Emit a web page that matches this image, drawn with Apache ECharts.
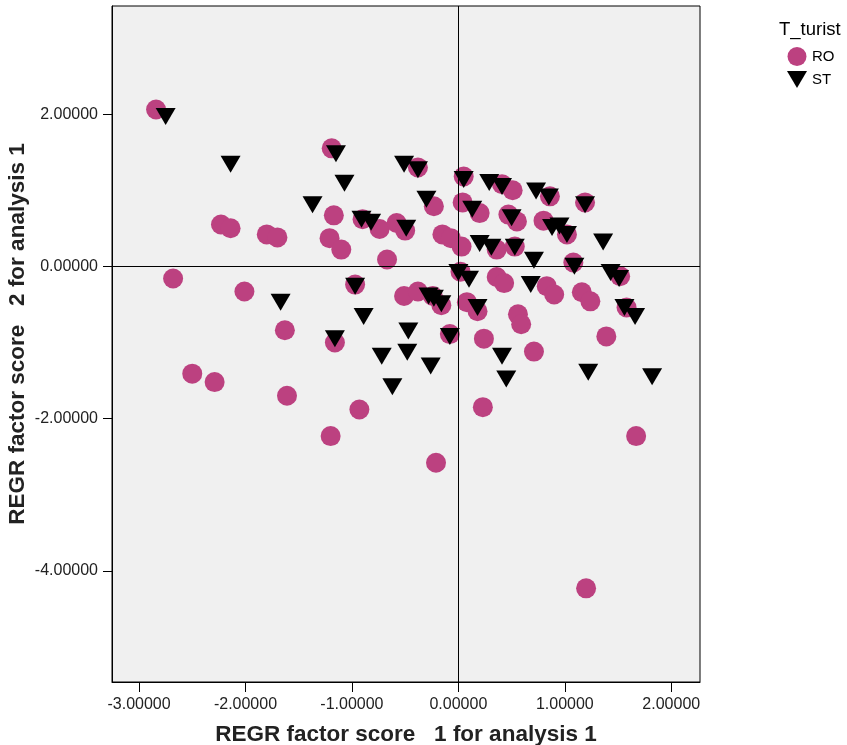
<!DOCTYPE html>
<html>
<head>
<meta charset="utf-8">
<script src="https://cdn.jsdelivr.net/npm/echarts@6/dist/echarts.min.js"></script>
<style>
  html, body { margin: 0; padding: 0; background: #fff; }
  #chart { width: 847px; height: 745px; }
</style>
</head>
<body>
<div id="chart"></div>
<script>
// factor scores, group RO (circles)
const roPoints = [
  [-2.84, 2.06], [-1.19, 1.55], [-0.38, 1.30], [0.05, 1.18], [0.41, 1.08],
  [0.51, 1.00], [0.86, 0.92], [1.19, 0.84], [-1.17, 0.67], [-2.23, 0.55],
  [-2.14, 0.50], [-1.80, 0.42], [-1.70, 0.38], [-0.90, 0.62], [-0.74, 0.49],
  [-0.58, 0.57], [-0.50, 0.47], [-0.23, 0.79], [0.04, 0.84], [0.20, 0.70],
  [0.47, 0.68], [0.55, 0.59], [0.80, 0.60], [1.02, 0.42], [-1.21, 0.37],
  [-1.10, 0.22], [-0.67, 0.09], [-0.15, 0.42], [-0.07, 0.37], [0.03, 0.26],
  [0.36, 0.22], [0.53, 0.26], [1.08, 0.05], [1.52, -0.13], [0.02, -0.07],
  [0.36, -0.14], [0.43, -0.22], [0.83, -0.26], [0.90, -0.37], [1.16, -0.34],
  [1.24, -0.46], [1.58, -0.54], [-0.97, -0.24], [-0.51, -0.39], [-0.38, -0.33],
  [-0.24, -0.39], [-0.16, -0.51], [0.08, -0.47], [0.18, -0.59], [0.56, -0.63],
  [0.59, -0.76], [-2.68, -0.16], [-2.01, -0.33], [-1.63, -0.84], [-1.16, -1.00],
  [-0.08, -0.89], [0.24, -0.95], [0.71, -1.12], [1.39, -0.92], [-2.50, -1.41],
  [-2.29, -1.52], [-1.61, -1.70], [-0.93, -1.88], [0.23, -1.85], [-1.20, -2.23],
  [-0.21, -2.58], [1.67, -2.23], [1.20, -4.23]
];

// factor scores, group ST (triangles)
const stPoints = [
  [-2.75, 1.97], [-2.14, 1.34], [-1.15, 1.48], [-1.07, 1.09], [-1.37, 0.81],
  [-0.51, 1.34], [-0.38, 1.27], [0.05, 1.14], [0.29, 1.10], [0.41, 1.05],
  [0.73, 0.99], [0.85, 0.91], [1.19, 0.81], [-0.30, 0.88], [0.13, 0.75],
  [-0.91, 0.62], [-0.82, 0.58], [-0.49, 0.50], [0.50, 0.64], [0.88, 0.51],
  [0.95, 0.53], [1.02, 0.42], [1.36, 0.32], [0.20, 0.30], [0.31, 0.25],
  [0.53, 0.25], [0.71, 0.08], [1.09, 0.00], [1.43, -0.08], [1.51, -0.16],
  [0.00, -0.08], [0.10, -0.17], [0.68, -0.24], [-0.97, -0.26], [-0.28, -0.39],
  [-0.23, -0.42], [-0.16, -0.49], [0.18, -0.54], [1.56, -0.54], [1.66, -0.66],
  [-1.67, -0.47], [-1.16, -0.95], [-0.89, -0.66], [-0.47, -0.85], [-0.08, -0.92],
  [-0.72, -1.18], [-0.48, -1.13], [-0.26, -1.31], [0.41, -1.18], [0.45, -1.48],
  [-0.62, -1.58], [1.22, -1.39], [1.82, -1.45]
];

const xTicks = [-3, -2, -1, 0, 1, 2];
const yTicks = [-4, -2, 0, 2];

const font = 'Liberation Sans, Arial, sans-serif';
const downTriangle = 'path://M0,0 L20,0 L10,17 Z';

const chart = echarts.init(document.getElementById('chart'));
chart.setOption({
  animation: false,
  textStyle: {fontFamily: font},
  title: {
    text: 'T_turist',
    left: 774,
    top: 15,
    textStyle: {fontSize: 18.5, fontWeight: 'normal', color: '#000', fontFamily: font},
  },
  legend: {
    orient: 'vertical',
    left: 787,
    top: 47,
    padding: 0,
    itemWidth: 20,
    itemHeight: 19,
    itemGap: 5,
    textStyle: {fontSize: 15, color: '#000', fontFamily: font},
    data: [
      {name: 'RO', icon: 'circle'},
      {name: 'ST', icon: downTriangle},
    ],
  },
  grid: {
    left: 112,
    top: 6,
    right: 147,
    bottom: 63,
    containLabel: false,
    outerBoundsMode: 'none',
    show: true,
    backgroundColor: '#f0f0f0',
    borderColor: '#000',
    borderWidth: 1,
  },
  xAxis: {
    type: 'value',
    min: -3.254,
    max: 2.27,
    name: 'REGR factor score   1 for analysis 1',
    nameLocation: 'middle',
    nameGap: 41,
    nameMoveOverlap: false,
    nameTextStyle: {fontSize: 22.5, fontWeight: 'bold', color: '#222', fontFamily: font},
    splitLine: {show: false},
    axisLine: {show: true, onZero: false, lineStyle: {color: '#000'}},
    axisTick: {show: true, length: 10, customValues: xTicks, lineStyle: {color: '#000'}},
    axisLabel: {
      customValues: xTicks,
      margin: 15,
      fontSize: 16,
      color: '#222',
      formatter: v => v.toFixed(5),
    },
  },
  yAxis: {
    type: 'value',
    min: -5.46,
    max: 3.42,
    name: 'REGR factor score   2 for analysis 1',
    nameLocation: 'middle',
    nameGap: 83,
    nameMoveOverlap: false,
    nameTextStyle: {
      fontSize: 22.5,
      fontWeight: 'bold',
      color: '#222',
      fontFamily: font,
      padding: [0, 0, 0, 20],
    },
    splitLine: {show: false},
    axisLine: {show: true, onZero: false, lineStyle: {color: '#000'}},
    axisTick: {show: true, length: 9, customValues: yTicks, lineStyle: {color: '#000'}},
    axisLabel: {
      customValues: yTicks,
      margin: 14,
      fontSize: 16,
      color: '#222',
      formatter: v => v.toFixed(5),
    },
  },
  series: [
    {
      name: 'RO',
      type: 'scatter',
      symbol: 'circle',
      symbolSize: 20,
      itemStyle: {color: '#bc4180', opacity: 1},
      data: roPoints,
      markLine: {
        silent: true,
        symbol: 'none',
        label: {show: false},
        lineStyle: {color: '#000', width: 1, type: 'solid'},
        data: [{xAxis: 0}, {yAxis: 0}],
      },
    },
    {
      name: 'ST',
      type: 'scatter',
      symbol: downTriangle,
      symbolSize: [20, 17],
      itemStyle: {color: '#000', opacity: 1},
      data: stPoints,
    },
  ],
});
</script>
</body>
</html>
